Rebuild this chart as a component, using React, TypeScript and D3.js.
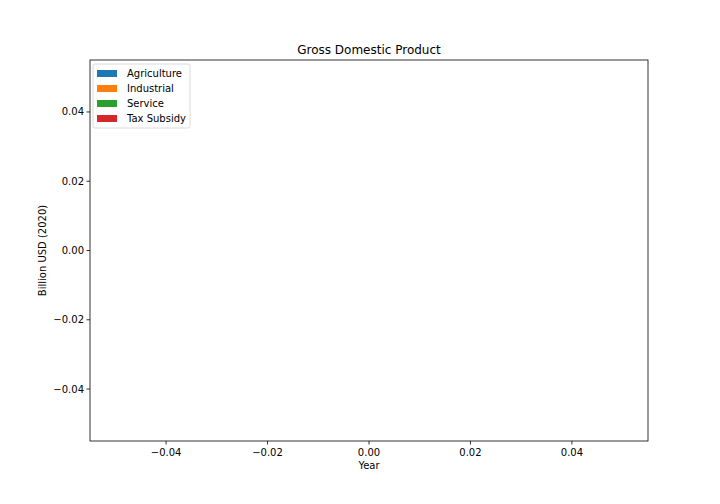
import React from "react";
import * as d3 from "d3";

const seriesNames = ["Agriculture", "Industrial", "Service", "Tax Subsidy"];
const seriesColors = ["#1f77b4", "#ff7f0e", "#2ca02c", "#d62728"];
const xTicks = [-0.04, -0.02, 0.0, 0.02, 0.04];
const yTicks = [-0.04, -0.02, 0.0, 0.02, 0.04];
const xDomain = [-0.055, 0.055];
const yDomain = [-0.055, 0.055];

export default function App() {
  const W = 720, H = 504;
  const L = 90, R = 648, T = 60, B = 441;
  const x = d3.scaleLinear().domain(xDomain).range([L, R]);
  const y = d3.scaleLinear().domain(yDomain).range([B, T]);
  const fmt = (v: number) => d3.format(".2f")(v).replace("-", "\u2212");
  const font = "DejaVu Sans, sans-serif";
  return (
    <div style={{ position: "absolute", left: 0, top: 0 }}>
      <svg width={W} height={H} style={{ display: "block", background: "#fff" }} fontFamily={font}>
        <rect x={L} y={T} width={R - L} height={B - T} fill="none" stroke="#000" strokeWidth={0.8} />
        {xTicks.map((t) => (
          <g key={"x" + t}>
            <line x1={x(t)} x2={x(t)} y1={B} y2={B + 3.5} stroke="#000" strokeWidth={0.8} />
            <text x={x(t)} y={B + 15} fontSize={10} textAnchor="middle">{fmt(t)}</text>
          </g>
        ))}
        {yTicks.map((t) => (
          <g key={"y" + t}>
            <line x1={L - 3.5} x2={L} y1={y(t)} y2={y(t)} stroke="#000" strokeWidth={0.8} />
            <text x={L - 6} y={y(t) + 3.5} fontSize={10} textAnchor="end">{fmt(t)}</text>
          </g>
        ))}
        <text x={(L + R) / 2} y={T - 6} fontSize={12} textAnchor="middle">Gross Domestic Product</text>
        <text x={(L + R) / 2} y={469} fontSize={10} textAnchor="middle">Year</text>
        <text transform={`translate(46,${(T + B) / 2}) rotate(-90)`} fontSize={10} textAnchor="middle">Billion USD (2020)</text>
        <rect x={93} y={64} width={97} height={64} rx={2} fill="#fff" fillOpacity={0.8} stroke="#d0d0d0" strokeWidth={0.8} />
        {seriesNames.map((n, i) => (
          <g key={n}>
            <rect x={97} y={70 + i * 15} width={20} height={7} fill={seriesColors[i]} />
            <text x={127} y={77 + i * 15} fontSize={10}>{n}</text>
          </g>
        ))}
      </svg>
    </div>
  );
}
